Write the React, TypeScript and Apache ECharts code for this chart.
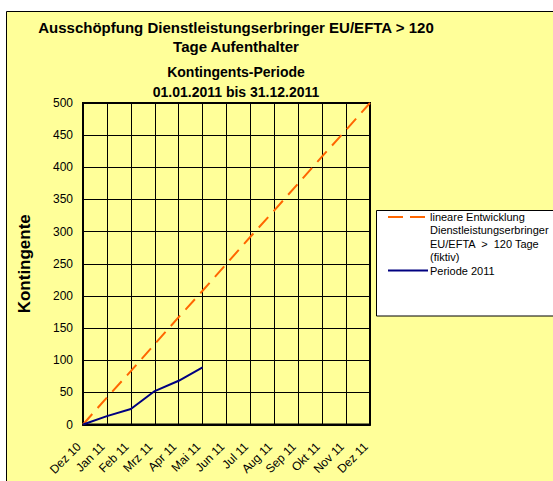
import React, { useEffect, useRef } from "react";
import * as echarts from "echarts";

const categories = [
  "Dez 10", "Jan 11", "Feb 11", "Mrz 11", "Apr 11", "Mai 11", "Jun 11",
  "Jul 11", "Aug 11", "Sep 11", "Okt 11", "Nov 11", "Dez 11",
];
const linearValues = [0, 42, 83, 125, 167, 208, 250, 292, 333, 375, 417, 458, 500];
const periodValues = [0, 13, 24, 52, 68, 89];

const linearName = "lineare Entwicklung Dienstleistungserbringer EU/EFTA > 120 Tage (fiktiv)";
const periodName = "Periode 2011";
const linearLegendLines = ["lineare Entwicklung", "Dienstleistungserbringer", "EU/EFTA  >  120 Tage", "(fiktiv)"];
const yTicks = { min: 0, max: 500, interval: 50 };

const FONT = "'Liberation Sans', Arial, sans-serif";

export default function App() {
  const ref = useRef<HTMLDivElement>(null);
  useEffect(() => {
    if (!ref.current) return;
    const chart = echarts.init(ref.current, null, { renderer: "svg" });

    const legendTextStyle = { fontFamily: FONT, fontSize: 11, fill: "#000", textVerticalAlign: "middle", verticalAlign: "middle" };
    const legendElements: any[] = [
      {
        type: "rect",
        z: 1,
        silent: true,
        shape: { x: 376.5, y: 210.5, width: 200, height: 105.5 },
        style: { fill: "#ffffff", stroke: "#000", lineWidth: 1 },
      },
      {
        type: "line",
        z: 2,
        silent: true,
        shape: { x1: 388, y1: 217, x2: 425, y2: 217 },
        style: { stroke: "#FF6600", lineWidth: 2, lineDash: [15, 7] },
      },
      ...linearLegendLines.map((t, i) => ({
        type: "text",
        z: 2,
        silent: true,
        x: 430,
        y: 217 + i * 13.4,
        style: { ...legendTextStyle, text: t },
      })),
      {
        type: "line",
        z: 2,
        silent: true,
        shape: { x1: 388, y1: 270.5, x2: 428, y2: 270.5 },
        style: { stroke: "#000080", lineWidth: 2 },
      },
      {
        type: "text",
        z: 2,
        silent: true,
        x: 430,
        y: 270.5,
        style: { ...legendTextStyle, text: periodName },
      },
    ];

    chart.setOption({
      animation: false,
      backgroundColor: "#ffffff",
      textStyle: { fontFamily: FONT },
      title: {
        text: "Ausschöpfung Dienstleistungserbringer EU/EFTA > 120\nTage Aufenthalter",
        subtext: "Kontingents-Periode\n01.01.2011 bis 31.12.2011",
        left: 236,
        top: 18,
        padding: 0,
        itemGap: 6,
        textAlign: "center",
        textStyle: { fontFamily: FONT, fontSize: 15, fontWeight: "bold", color: "#000", lineHeight: 19 },
        subtextStyle: { fontFamily: FONT, fontSize: 14, fontWeight: "bold", color: "#000", lineHeight: 20 },
      },
      graphic: {
        elements: [
          {
            type: "rect",
            z: -10,
            silent: true,
            shape: { x: 6.5, y: 11.5, width: 560, height: 480 },
            style: { fill: "#FFFF99", stroke: "#000", lineWidth: 1 },
          },
          ...legendElements,
        ],
      },
      grid: {
        left: 83,
        right: 183,
        top: 103,
        bottom: 56.5,
        show: true,
        borderColor: "#000",
        borderWidth: 2,
        backgroundColor: "transparent",
      },
      xAxis: {
        type: "category",
        data: categories,
        boundaryGap: false,
        axisLine: { lineStyle: { color: "#000", width: 2 } },
        axisTick: { show: false },
        axisLabel: {
          rotate: 45,
          fontSize: 12,
          color: "#000",
          margin: 16,
          padding: [0, 6, 0, 0],
          interval: 0,
          fontFamily: FONT,
        },
        splitLine: { show: true, lineStyle: { color: "#000", width: 1 } },
      },
      yAxis: {
        type: "value",
        min: yTicks.min,
        max: yTicks.max,
        interval: yTicks.interval,
        name: "Kontingente",
        nameLocation: "middle",
        nameGap: 50,
        nameTextStyle: { fontFamily: FONT, fontSize: 17, fontWeight: "bold", color: "#000" },
        axisLine: { show: true, lineStyle: { color: "#000", width: 2 } },
        axisTick: { show: false },
        axisLabel: { fontSize: 12, color: "#000", margin: 10, fontFamily: FONT },
        splitLine: { show: true, lineStyle: { color: "#000", width: 1 } },
      },
      series: [
        {
          name: linearName,
          type: "line",
          data: linearValues,
          symbol: "none",
          lineStyle: { color: "#FF6600", width: 2, type: [14, 8] },
          itemStyle: { color: "#FF6600" },
          z: 3,
        },
        {
          name: periodName,
          type: "line",
          data: periodValues,
          symbol: "none",
          lineStyle: { color: "#000080", width: 2 },
          itemStyle: { color: "#000080" },
          z: 4,
        },
      ],
    });
    return () => chart.dispose();
  }, []);
  return (
    <div
      ref={ref}
      style={{ position: "absolute", left: 0, top: 0, width: 553, height: 481 }}
    />
  );
}
